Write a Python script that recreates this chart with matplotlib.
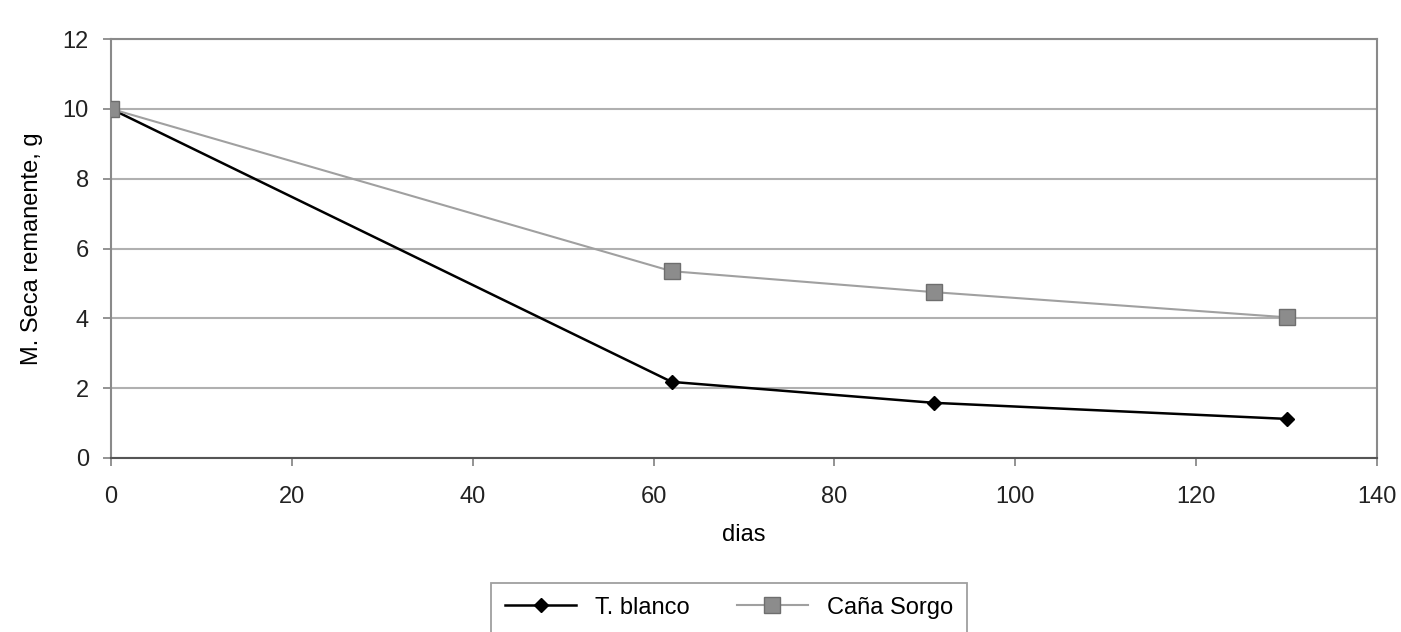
import matplotlib.pyplot as plt

# datos
dias = [0, 62, 91, 130]
t_blanco = [10.0, 2.18, 1.58, 1.12]
cana_sorgo = [10.0, 5.35, 4.75, 4.03]

plt.rcParams['font.family'] = ['Liberation Sans', 'DejaVu Sans']

fig = plt.figure(figsize=(14.01, 6.32), dpi=100)
ax = fig.add_axes([111 / 1401, 1 - 458 / 632, (1377 - 111) / 1401, (458 - 39) / 632])

ax.plot(dias, t_blanco, color='black', lw=1.8, marker='D', ms=7,
        mfc='black', mec='black', label='T. blanco', zorder=3)
ax.plot(dias, cana_sorgo, color='#a0a0a0', lw=1.5, marker='s', ms=11,
        mfc='#8c8c8c', mec='#6e6e6e', label='Caña Sorgo', zorder=3)

ax.set_xlim(0, 140)
ax.set_ylim(0, 12)
ax.set_xticks(range(0, 141, 20))
ax.set_yticks(range(0, 13, 2))
ax.yaxis.grid(True, color='#b0b0b0', lw=1.5)
ax.set_axisbelow(True)
for s in ax.spines.values():
    s.set_color('#8a8a8a')
    s.set_linewidth(1.5)
ax.spines['bottom'].set_color('#555555')
ax.tick_params(axis='both', labelsize=17, colors='#222222', length=6, width=1.3)
ax.tick_params(axis='both', color='#8a8a8a')
ax.tick_params(axis='x', pad=14)
ax.tick_params(axis='y', pad=10)
ax.set_xlabel('dias', fontsize=17, labelpad=12)
ax.set_ylabel('M. Seca remanente, g', fontsize=17, labelpad=14)

leg = fig.legend(loc='lower center', bbox_to_anchor=(729 / 1401, -0.02), ncol=2,
                 fontsize=17, frameon=True, fancybox=False, edgecolor='#888888',
                 handlelength=3.0, columnspacing=2.0, borderpad=0.6)
leg.get_frame().set_linewidth(1.3)

fig.savefig('out.png', dpi=100)
